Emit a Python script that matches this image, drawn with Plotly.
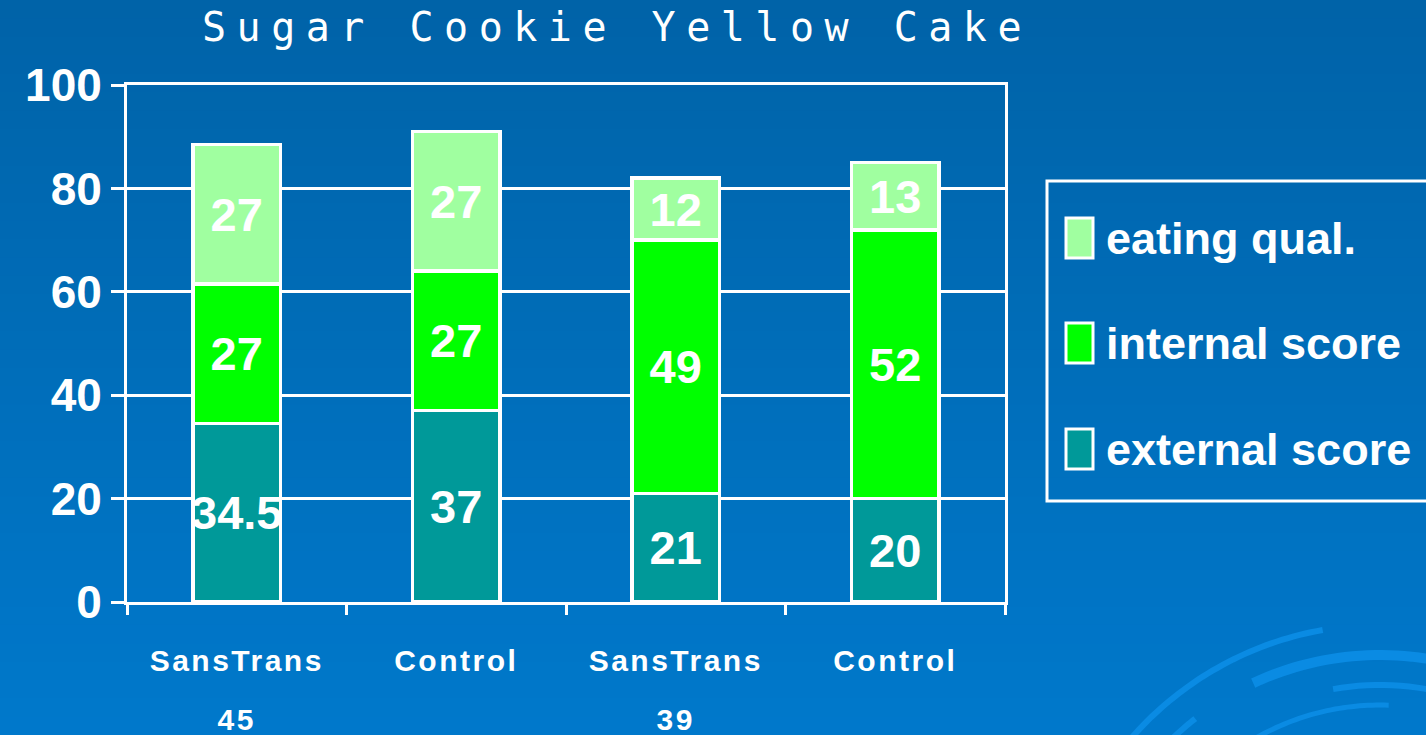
import numpy as np
import plotly.graph_objects as go

# ---------------- data ----------------
categories = ["SansTrans 45", "Control (45)", "SansTrans 39", "Control (39)"]
tick_line1 = ["SansTrans", "Control", "SansTrans", "Control"]
tick_line2 = ["45", "", "39", ""]
external_score = [34.5, 37, 21, 20]
internal_score = [27, 27, 49, 52]
eating_qual = [27, 27, 12, 13]
series_names = ["external score", "internal score", "eating qual."]
series_colors = ["#009999", "#00FF00", "#A0FFA0"]
y_ticks = [0, 20, 40, 60, 80, 100]
title_text = "Sugar Cookie Yellow Cake"

# ---------------- layout geometry (pixels) ----------------
W, H = 1426, 735
PL, PR, PT, PB = 127, 1005, 85, 602  # plot area edges
pw, ph = PR - PL, PB - PT

def xp(px):
    return (px - PL) / pw

def yp(py):
    return (PB - py) / ph

FONT = "Liberation Sans Narrow, Arial Narrow, Liberation Sans, Arial, sans-serif"
WHITE = "#FFFFFF"

fig = go.Figure()
for name, vals, col in zip(series_names, [external_score, internal_score, eating_qual], series_colors):
    fig.add_trace(go.Bar(
        name=name, x=categories, y=vals,
        marker=dict(color=col, line=dict(color=WHITE, width=3.5)),
        text=[("%g" % v) for v in vals], texttemplate="%{text}",
        textposition="inside", insidetextanchor="middle", textangle=0,
        constraintext="none",
        textfont=dict(family=FONT, size=47, color=WHITE, weight="bold"),
        showlegend=False, hoverinfo="skip",
    ))

ticktext = []
for a, b in zip(tick_line1, tick_line2):
    s = "<span style='letter-spacing:2.5px;font-size:30px'>%s</span>" % a
    s += "<br><span style='letter-spacing:2.5px;font-size:30px'>%s</span>" % (b if b else " ")
    ticktext.append(s)

shapes = []
# background gradient
top = np.array([0x00, 0x63, 0xA8])
bot = np.array([0x00, 0x79, 0xCC])
nb = 40
for i in range(nb):
    c = top + (bot - top) * (i + 0.5) / nb
    y0 = H * i / nb
    y1 = H * (i + 1) / nb + 1
    shapes.append(dict(type="rect", xref="paper", yref="paper", layer="below",
                       x0=xp(-5), x1=xp(W + 5), y0=yp(y1), y1=yp(y0),
                       line=dict(width=0), fillcolor="rgb(%d,%d,%d)" % tuple(c.astype(int))))

# decorative swirl arcs bottom right
def arc(cx, cy, r, a0, a1, n=40):
    t = np.radians(np.linspace(a0, a1, n))
    pts = [(cx + r * np.cos(tt), cy - r * np.sin(tt)) for tt in t]
    return "M" + " L".join("%.4f,%.4f" % (xp(px), yp(py)) for px, py in pts)

swirl = [(330, 100, 140, 6), (300, 60, 115, 10), (270, 30, 100, 6), (250, 88, 125, 5),
         (215, 40, 150, 6), (180, 60, 160, 5), (300, 128, 150, 6)]
for r, a0, a1, w in swirl:
    shapes.append(dict(type="path", xref="paper", yref="paper", layer="below",
                       path=arc(1380, 955, r, a0, a1), line=dict(color="#0A8BE3", width=w)))

# legend box
shapes.append(dict(type="rect", xref="paper", yref="paper",
                   x0=xp(1047), x1=xp(1460), y0=yp(501), y1=yp(181),
                   line=dict(color=WHITE, width=3), fillcolor="rgba(0,0,0,0)"))
annotations = []
legend_rows = [(series_names[2], series_colors[2], 238), (series_names[1], series_colors[1], 343),
               (series_names[0], series_colors[0], 449)]
for name, col, cy in legend_rows:
    shapes.append(dict(type="rect", xref="paper", yref="paper",
                       x0=xp(1066), x1=xp(1093), y0=yp(cy + 20), y1=yp(cy - 20),
                       line=dict(color=WHITE, width=3), fillcolor=col))
    annotations.append(dict(x=xp(1104), y=yp(cy), xref="paper", yref="paper", text=name,
                            showarrow=False, xanchor="left", yanchor="middle",
                            font=dict(family=FONT, size=45, color=WHITE, weight="bold")))

annotations.append(dict(x=xp(617), y=yp(27), xref="paper", yref="paper",
                        text="<span style='letter-spacing:10.5px'>%s</span>" % title_text,
                        showarrow=False, xanchor="center", yanchor="middle",
                        font=dict(family="DejaVu Sans Mono, Liberation Mono, monospace", size=40, color=WHITE)))

fig.update_layout(
    width=W, height=H, barmode="stack", bargap=0.6,
    margin=dict(l=PL, r=W - PR, t=PT, b=H - PB, autoexpand=False),
    paper_bgcolor="#0063A8", plot_bgcolor="rgba(0,0,0,0)",
    shapes=shapes, annotations=annotations, showlegend=False,
    xaxis=dict(type="category", tickvals=categories, ticktext=ticktext,
               range=[-0.5, 3.5], showline=True, linecolor=WHITE, linewidth=3, mirror=True,
               ticks="outside", tickson="boundaries", ticklen=10, tickwidth=3, tickcolor=WHITE,
               showgrid=False, ticklabelstandoff=12,
               tickfont=dict(family=FONT, size=45, color=WHITE, weight="bold")),
    yaxis=dict(range=[0, 100], tickvals=y_ticks, showline=True, linecolor=WHITE, linewidth=3,
               mirror=True, ticks="outside", ticklen=13, tickwidth=3, tickcolor=WHITE,
               showgrid=True, gridcolor=WHITE, gridwidth=3, zeroline=False,
               tickfont=dict(family=FONT, size=46, color=WHITE, weight="bold")),
)

fig.write_html("out.html", config={"displayModeBar": False},
               post_script="document.body.style.margin='0';document.body.style.overflow='hidden';")
